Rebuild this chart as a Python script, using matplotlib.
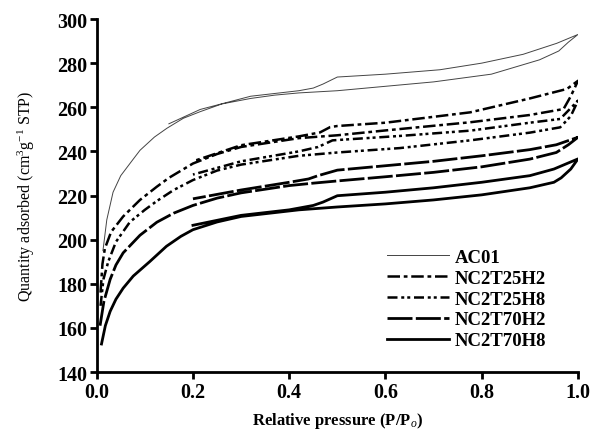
import matplotlib.pyplot as plt

plt.rcParams['font.family'] = 'Liberation Serif'
plt.rcParams['mathtext.fontset'] = 'custom'
plt.rcParams['mathtext.rm'] = 'Liberation Serif'
plt.rcParams['mathtext.it'] = 'Liberation Serif:italic'
plt.rcParams['mathtext.bf'] = 'Liberation Serif:bold'

# N2 isotherms: adsorption branch (ads) and desorption branch (des)
ac01_ads_p = [0.013, 0.021, 0.034, 0.05, 0.076, 0.09, 0.12, 0.146, 0.18, 0.215, 0.26, 0.32, 0.37, 0.42, 0.5, 0.61, 0.7, 0.82, 0.92, 0.96, 0.98, 1.0]
ac01_ads_v = [195, 209, 221.5, 229, 236.5, 240.5, 246.5, 250.5, 255, 258, 261.5, 264, 265.5, 266.5, 267.5, 269.7, 271.5, 275, 281.5, 285.5, 289.5, 293]
ac01_des_p = [1.0, 0.956, 0.886, 0.8, 0.713, 0.6, 0.5, 0.47, 0.45, 0.42, 0.32, 0.215, 0.15]
ac01_des_v = [293, 289, 284, 280, 277, 275, 273.7, 270.5, 268.7, 267.5, 265, 259, 252.5]

h2_ads_p = [0.008, 0.012, 0.017, 0.03, 0.055, 0.09, 0.125, 0.15, 0.2, 0.25, 0.3, 0.42, 0.5, 0.6, 0.776, 0.9, 0.97, 0.985, 1.0]
h2_ads_v = [176, 189, 196, 203.5, 210.5, 218, 224, 228, 234.5, 238.8, 242, 246, 247.3, 249.5, 253.2, 256.5, 259.2, 265, 272]
h2_des_p = [1.0, 0.977, 0.9, 0.776, 0.6, 0.5, 0.485, 0.464, 0.42, 0.3, 0.2]
h2_des_v = [272, 268.3, 264, 257.7, 253, 251.5, 251, 248.6, 246.8, 242.8, 235.5]

h8_ads_p = [0.008, 0.014, 0.024, 0.04, 0.069, 0.1, 0.125, 0.16, 0.2, 0.25, 0.3, 0.42, 0.5, 0.63, 0.776, 0.9, 0.963, 0.985, 1.0]
h8_ads_v = [170, 182, 190, 199, 208, 213.5, 217.5, 222.5, 227, 231.3, 234, 238, 239.5, 241.5, 245, 248.5, 250.9, 256, 263]
h8_des_p = [1.0, 0.963, 0.9, 0.776, 0.63, 0.49, 0.46, 0.42, 0.3, 0.2]
h8_des_v = [263, 254.7, 253, 249.4, 247, 245, 242, 240, 235.5, 229.5]

t70h2_ads_p = [0.007, 0.015, 0.028, 0.04, 0.055, 0.09, 0.125, 0.16, 0.2, 0.25, 0.3, 0.4, 0.45, 0.5, 0.6, 0.7, 0.8, 0.9, 0.955, 0.98, 1.0]
t70h2_ads_v = [161, 172, 182, 188.5, 194, 202, 207.9, 212, 215.5, 218.8, 221.2, 224.5, 225.6, 226.6, 228.5, 230.5, 233, 236.5, 239.5, 243, 246.4]
t70h2_des_p = [1.0, 0.955, 0.9, 0.8, 0.7, 0.6, 0.5, 0.46, 0.44, 0.4, 0.3, 0.2]
t70h2_des_v = [246.4, 243, 240.8, 238, 235.5, 233.5, 231.5, 229, 227.5, 226, 222.5, 218.5]

t70h8_ads_p = [0.01, 0.018, 0.028, 0.04, 0.055, 0.076, 0.11, 0.145, 0.175, 0.2, 0.25, 0.3, 0.42, 0.5, 0.6, 0.7, 0.8, 0.9, 0.95, 0.965, 0.985, 1.0]
t70h8_ads_v = [152.7, 161, 167.5, 173, 178, 183.5, 190, 197, 201.5, 204.5, 208, 210.5, 213.5, 214.8, 216.2, 218, 220.3, 223.5, 226, 228, 232, 236.6]
t70h8_des_p = [1.0, 0.95, 0.9, 0.8, 0.7, 0.6, 0.5, 0.47, 0.45, 0.4, 0.3, 0.2]
t70h8_des_v = [236.6, 232, 229, 226, 223.5, 221.5, 219.9, 217, 215.5, 213.5, 211, 206.5]

labels = ['AC01', 'NC2T25H2', 'NC2T25H8', 'NC2T70H2', 'NC2T70H8']

fig = plt.figure(figsize=(5.91, 4.35), dpi=100)
ax = fig.add_axes([0.1636, 0.1425, 0.8144, 0.8115])

series = [
    (ac01_ads_p, ac01_ads_v, ac01_des_p, ac01_des_v, dict(color='#444444', lw=0.7, ls='-')),
    (h2_ads_p, h2_ads_v, h2_des_p, h2_des_v, dict(color='black', lw=1.8, ls=(0, (5, 1.5, 1.5, 1.5)))),
    (h8_ads_p, h8_ads_v, h8_des_p, h8_des_v, dict(color='black', lw=1.8, ls=(0, (4, 1.5, 1.2, 1.2, 1.2, 1.5)))),
    (t70h2_ads_p, t70h2_ads_v, t70h2_des_p, t70h2_des_v, dict(color='black', lw=2.0, ls=(0, (9, 1.2)))),
    (t70h8_ads_p, t70h8_ads_v, t70h8_des_p, t70h8_des_v, dict(color='black', lw=2.0, ls='-')),
]

for (ap, av, dp, dv, style), name in zip(series, labels):
    # adsorption up to P/P0 = 1, then desorption back down
    ax.plot(ap + dp, av + dv, label=name, **style)

ax.set_xlim(0, 1.0)
ax.set_ylim(140, 300)
ax.set_xticks([0.0, 0.2, 0.4, 0.6, 0.8, 1.0])
ax.set_xticklabels(['0.0', '0.2', '0.4', '0.6', '0.8', '1.0'])
ax.set_yticks(range(140, 301, 20))

for s in ['top', 'right']:
    ax.spines[s].set_visible(False)
for s in ['left', 'bottom']:
    ax.spines[s].set_linewidth(2)

ax.tick_params(direction='out', length=5, width=2, labelsize=14.5, pad=2)
for lab in ax.get_xticklabels() + ax.get_yticklabels():
    lab.set_fontweight('bold')

ax.set_xlabel('Relative pressure (P/P$_o$)', fontsize=12, fontweight='bold', labelpad=6)
ax.set_ylabel('Quantity adsorbed (cm$^3$g$^{-1}$ STP)', fontsize=11.5, labelpad=14)

ax.legend(loc='center', bbox_to_anchor=(0.768, 0.207), frameon=False,
          prop={'family': 'Liberation Serif', 'weight': 'bold', 'size': 13.5},
          handlelength=3.3, handletextpad=0.3, labelspacing=0.2)

fig.savefig('out.png', dpi=100)
